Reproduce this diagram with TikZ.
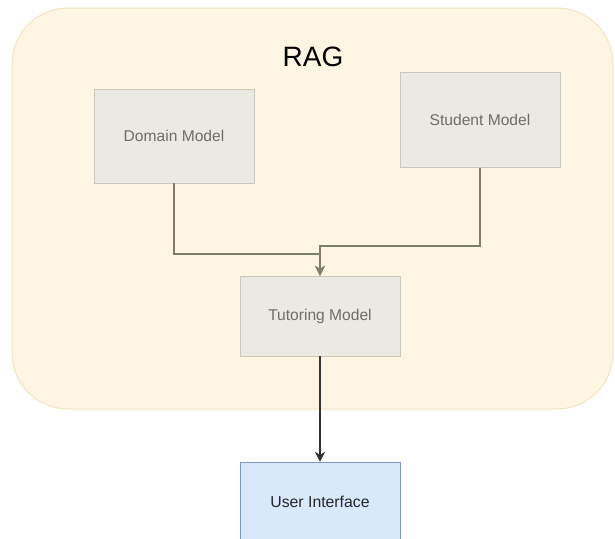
\documentclass[tikz,border=0pt]{standalone}
\usepackage[svgnames]{xcolor}
\usepackage{fontspec}
\setmainfont{Liberation Sans}
\usetikzlibrary{arrows.meta,positioning}
\definecolor{ragFill}{HTML}{FEF5E2}
\definecolor{ragLine}{HTML}{F0E4C2}
\definecolor{modelFill}{HTML}{EBEAE2}
\definecolor{modelLine}{HTML}{C9C8BC}
\definecolor{modelText}{HTML}{6E6E66}
\definecolor{flowLine}{HTML}{7F7D6B}
\definecolor{uiFill}{HTML}{DAE8FC}
\definecolor{uiLine}{HTML}{7E98C2}

\begin{document}
\begin{tikzpicture}[
  x=1pt,
  y=-1pt,
  every model/.style={
    draw=modelLine,
    fill=modelFill,
    text=modelText,
    minimum width=160pt,
    minimum height=94pt,
    font=\fontsize{15.6}{18}\selectfont,
  },
  model/.style={
    every model,
  },
  uibox/.style={
    draw=uiLine,
    fill=uiFill,
    text=black!85,
    minimum width=160pt,
    minimum height=80pt,
    font=\fontsize{15.8}{18}\selectfont,
  },
  flow/.style={
    draw=flowLine,
    line width=1.2pt,
    -{Stealth[length=10pt,width=10pt,inset=3pt]},
  },
]
\useasboundingbox (0,0) rectangle (615,538);
\clip (0,0) rectangle (615,538);
% container
\draw[ragLine,line width=1pt,fill=ragFill,rounded corners=56pt] (12,8) rectangle (613,409);
\node[font=\fontsize{28}{30}\selectfont] (rag) at (313,57) {RAG};
% models
\node[model] (domain) at (174,136) {Domain Model};
\node[model,minimum height=95pt] (student) at (480,120) {Student Model};
\node[model,minimum height=80pt] (tutoring) at (320,316) {Tutoring Model};
\node[uibox] (ui) at (320,502) {User Interface};
% connectors
\coordinate (dmerge) at (tutoring.north |- 0,254);
\coordinate (smerge) at (tutoring.north |- 0,246);
\draw[flow] (domain.south) |- (dmerge) -- (tutoring.north);
\draw[flow] (student.south) |- (smerge) -- (tutoring.north);
\draw[flow,draw=black!80,fill=black] (tutoring.south) -- (ui.north);
\end{tikzpicture}
\end{document}
